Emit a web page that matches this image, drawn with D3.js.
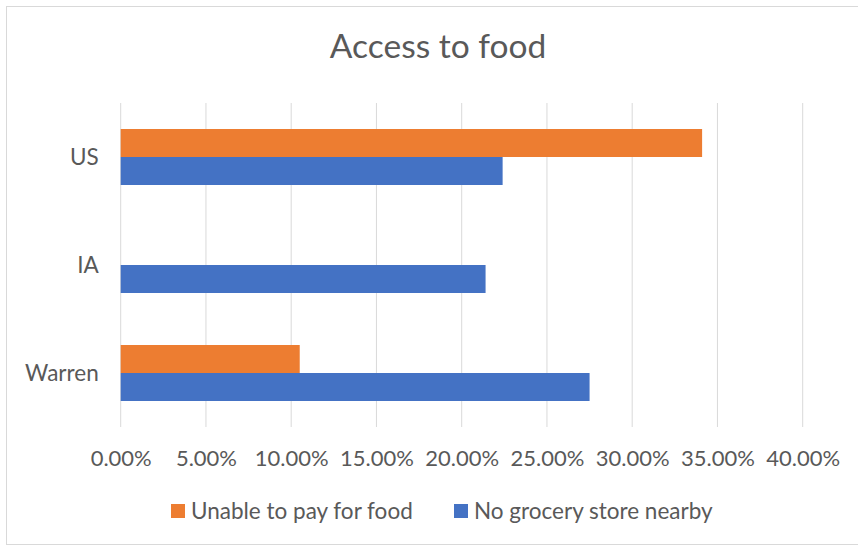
<!DOCTYPE html>
<html><head><meta charset="utf-8">
<script src="https://cdn.jsdelivr.net/npm/d3@7"></script>
<style>body{margin:0;background:#fff;} svg{display:block;} text{font-family:Lato, "Open Sans", sans-serif; fill:#595959;}</style>
</head><body>
<svg id="chart" width="858" height="546"></svg>
<script>
const categories = ["US", "IA", "Warren"];
const seriesNames = ["Unable to pay for food", "No grocery store nearby"];
const unablePay = [34.1, null, 10.5];
const noGrocery = [22.4, 21.4, 27.5];
const tickValues = [0, 5, 10, 15, 20, 25, 30, 35, 40];
const colors = ["#ED7D31", "#4472C4"];
const title = "Access to food";

const svg = d3.select("#chart");
const W = 858, H = 546;
svg.append("rect").attr("x", 6.5).attr("y", 6.5).attr("width", W - 6).attr("height", H - 8)
  .attr("fill", "#fff").attr("stroke", "#d9d9d9");

const m = {left: 120.7, right: 858 - 802.7, top: 103, bottom: 546 - 427};
const x = d3.scaleLinear().domain([0, 40]).range([m.left, W - m.right]);
const y = d3.scaleBand().domain(categories).range([m.top, H - m.bottom]);
const sub = d3.scaleBand().domain([0, 1]).range([0, 56]);

// gridlines
svg.append("g").selectAll("line").data(tickValues).join("line")
  .attr("x1", d => x(d)).attr("x2", d => x(d))
  .attr("y1", m.top).attr("y2", H - m.bottom)
  .attr("stroke", "#d9d9d9").attr("stroke-width", 1);

const series = [unablePay, noGrocery];
series.forEach((vals, si) => {
  svg.append("g").selectAll("rect").data(categories.map((c, i) => ({c, v: vals[i]})).filter(d => d.v != null))
    .join("rect")
    .attr("x", x(0))
    .attr("y", d => y(d.c) + y.bandwidth() / 2 - 28 + sub(si))
    .attr("width", d => x(d.v) - x(0))
    .attr("height", sub.bandwidth())
    .attr("fill", colors[si]);
});

// x axis
const xAxis = d3.axisBottom(x).tickValues(tickValues).tickSize(0).tickPadding(0)
  .tickFormat(d => d.toFixed(2) + "%");
const gx = svg.append("g").attr("transform", `translate(0,466)`).call(xAxis);
gx.select(".domain").remove();
gx.selectAll("text").attr("font-size", 22).attr("font-family", "Lato, sans-serif").attr("fill", "#595959").attr("dy", "0").attr("y", 0);

// y axis
const yAxis = d3.axisLeft(y).tickSize(0).tickPadding(22);
const gy = svg.append("g").attr("transform", `translate(${m.left},0)`).call(yAxis);
gy.select(".domain").remove();
gy.selectAll("text").attr("font-size", 22.5).attr("font-family", "Lato, sans-serif").attr("fill", "#595959").attr("dy", "0.35em");

// title
svg.append("text").attr("x", 438).attr("y", 58).attr("text-anchor", "middle")
  .attr("font-size", 33.5).text(title);

// legend
const legendX = [171, 454];
const lg = svg.append("g");
seriesNames.forEach((n, i) => {
  lg.append("rect").attr("x", legendX[i]).attr("y", 504).attr("width", 14).attr("height", 14).attr("fill", colors[i]);
  lg.append("text").attr("x", legendX[i] + 20).attr("y", 511).attr("dy", "0.35em").attr("font-size", 22.5).text(n);
});
</script>
</body></html>
